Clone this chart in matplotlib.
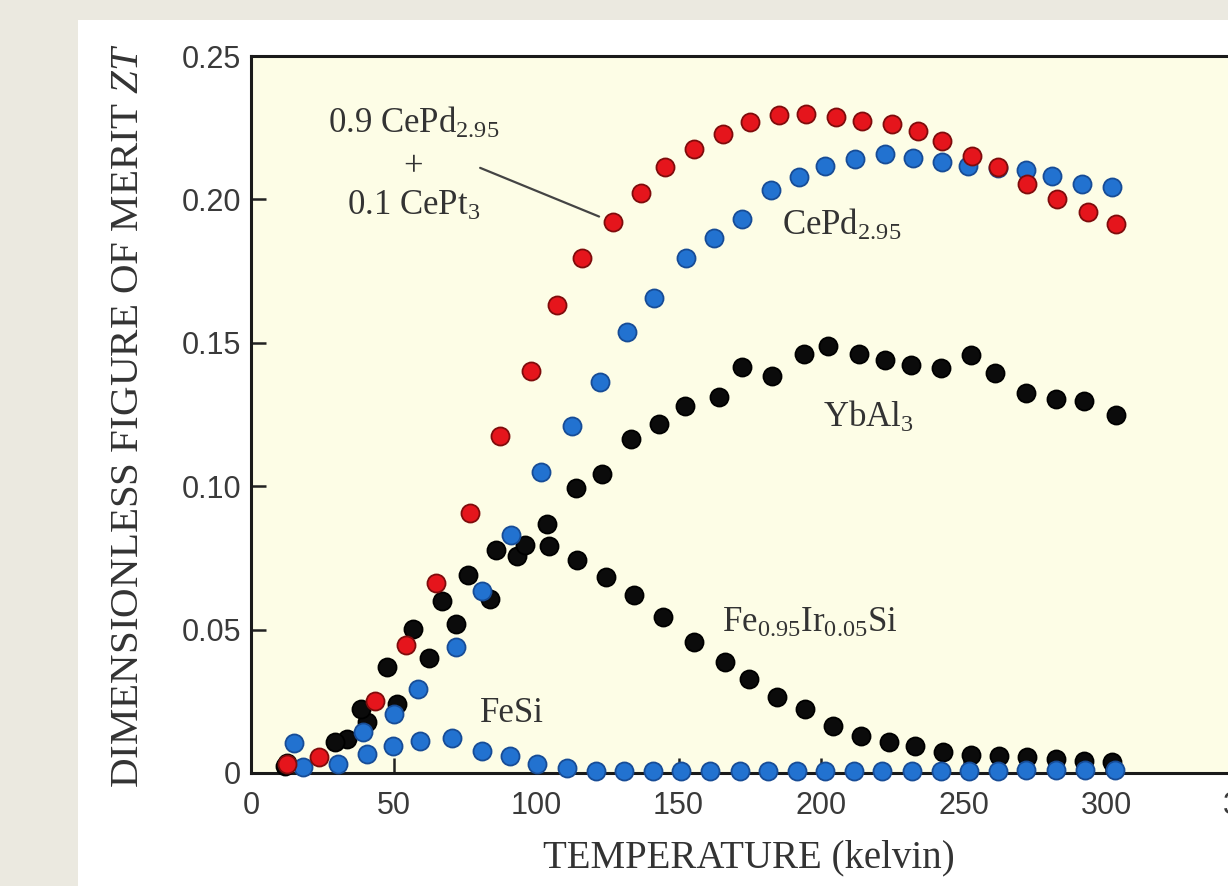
import matplotlib
matplotlib.use("Agg")
import matplotlib.pyplot as plt
from matplotlib.patches import Rectangle

plt.rcParams['font.family'] = ['Liberation Serif', 'DejaVu Serif']
plt.rcParams['mathtext.fontset'] = 'custom'
plt.rcParams['mathtext.rm'] = 'Liberation Serif'
plt.rcParams['mathtext.it'] = 'Liberation Serif:italic'

# 0.9 CePd2.95 + 0.1 CePt3 (red)
mix_T = [12.6, 23.8, 43.4, 54.3, 64.8, 76.7, 87.2, 98.1, 107.2, 116.3, 127.1, 136.9, 145.3, 155.5, 165.7,
         175.1, 185.3, 194.8, 205.3, 214.4, 225.0, 234.0, 242.4, 253.0, 262.0, 272.2, 282.7, 293.6, 303.4]
mix_ZT = [0.0030, 0.0056, 0.0252, 0.0448, 0.0661, 0.0906, 0.1175, 0.1400, 0.1632, 0.1795, 0.1920, 0.2022,
          0.2112, 0.2176, 0.2228, 0.2270, 0.2294, 0.2298, 0.2288, 0.2274, 0.2264, 0.2240, 0.2205, 0.2153,
          0.2114, 0.2052, 0.2002, 0.1955, 0.1913]

# CePd2.95 (blue)
cepd_T = [18.2, 30.4, 39.2, 50.1, 58.5, 71.8, 81.2, 91.4, 101.9, 112.8, 122.6, 132.0, 141.5, 152.7, 162.5,
          172.4, 182.5, 192.3, 201.4, 211.9, 222.4, 232.2, 242.4, 251.5, 262.0, 271.8, 281.0, 291.5, 302.0]
cepd_ZT = [0.0021, 0.0031, 0.0143, 0.0206, 0.0294, 0.0441, 0.0636, 0.0829, 0.1050, 0.1210, 0.1362, 0.1536,
           0.1657, 0.1794, 0.1867, 0.1930, 0.2034, 0.2079, 0.2118, 0.2142, 0.2160, 0.2146, 0.2132, 0.2118,
           0.2110, 0.2104, 0.2083, 0.2055, 0.2044]

# FeSi (blue)
fesi_T = [15.0, 40.6, 49.7, 59.2, 70.7, 80.9, 91.0, 100.5, 111.0, 121.0, 131.0, 141.0, 151.0, 161.0, 171.5,
          181.5, 191.5, 201.5, 211.5, 221.5, 232.0, 242.0, 252.0, 262.0, 272.0, 282.5, 292.5, 303.0]
fesi_ZT = [0.0105, 0.0066, 0.0094, 0.0112, 0.0122, 0.0077, 0.0060, 0.0031, 0.0017, 0.0008, 0.0007, 0.0008,
           0.0008, 0.0007, 0.0008, 0.0008, 0.0008, 0.0008, 0.0008, 0.0008, 0.0008, 0.0008, 0.0008, 0.0008,
           0.0009, 0.0009, 0.0010, 0.0010]

# YbAl3 (black)
ybal_T = [12.0, 33.6, 40.6, 51.1, 62.3, 71.8, 83.7, 93.2, 103.7, 114.2, 123.3, 133.4, 143.3, 152.4, 164.3,
          172.4, 182.9, 194.1, 202.5, 213.3, 222.4, 231.5, 242.0, 252.6, 261.0, 271.9, 282.3, 292.2, 303.4]
ybal_ZT = [0.0025, 0.0119, 0.0178, 0.0241, 0.0402, 0.0521, 0.0608, 0.0755, 0.0867, 0.0993, 0.1042, 0.1164,
           0.1217, 0.1280, 0.1311, 0.1416, 0.1385, 0.1462, 0.1488, 0.1460, 0.1440, 0.1422, 0.1412, 0.1456,
           0.1394, 0.1324, 0.1303, 0.1296, 0.1247]

# Fe0.95Ir0.05Si (black)
feir_T = [12.5, 29.4, 38.5, 47.6, 56.7, 66.9, 76.0, 86.1, 96.0, 104.4, 114.5, 124.7, 134.5, 144.7, 155.5,
          166.4, 174.8, 184.6, 194.4, 204.2, 214.1, 223.8, 233.0, 242.8, 252.6, 262.4, 272.2, 282.3, 292.2, 302.0]
feir_ZT = [0.0035, 0.0108, 0.0224, 0.0370, 0.0503, 0.0601, 0.0689, 0.0776, 0.0794, 0.0790, 0.0741, 0.0685,
           0.0619, 0.0545, 0.0458, 0.0388, 0.0329, 0.0266, 0.0224, 0.0164, 0.0129, 0.0108, 0.0094, 0.0073,
           0.0063, 0.0059, 0.0056, 0.0049, 0.0042, 0.0038]

x_ticks = [0, 50, 100, 150, 200, 250, 300, 350]
x_labels = ['0', '50', '100', '150', '200', '250', '300', '350']
y_ticks = [0, 0.05, 0.10, 0.15, 0.20, 0.25]
y_labels = ['0', '0.05', '0.10', '0.15', '0.20', '0.25']

fig = plt.figure(figsize=(12.28, 8.86), dpi=100)
fig.patch.set_facecolor('#ebe9e0')
fig.add_artist(Rectangle((78 / 1228, 0), 1, 1 - 20 / 886, transform=fig.transFigure,
                         facecolor='white', edgecolor='none', zorder=-10))

ax = fig.add_axes([251 / 1228, 113 / 886, 997.5 / 1228, 717 / 886])
ax.set_facecolor('#fdfde6')

dot = dict(ls='none', marker='o', ms=13, mew=1.3, clip_on=False, zorder=3)
ax.plot(ybal_T, ybal_ZT, mfc='#0b0b0b', mec='#000000', **dot)
ax.plot(feir_T, feir_ZT, mfc='#0b0b0b', mec='#000000', **dot)
ax.plot(fesi_T, fesi_ZT, mfc='#2272d0', mec='#174c96', **dot)
ax.plot(cepd_T, cepd_ZT, mfc='#2272d0', mec='#174c96', **dot)
ax.plot(mix_T, mix_ZT, mfc='#e5151c', mec='#7e0c0c', **dot)

ax.set_xlim(0, 350)
ax.set_ylim(0, 0.25)
ax.set_xticks(x_ticks, x_labels, fontfamily='Liberation Sans', fontsize=22, color='#3a3a3a')
ax.set_yticks(y_ticks, y_labels, fontfamily='Liberation Sans', fontsize=22, color='#3a3a3a')
ax.tick_params(direction='in', length=11, width=1.8, color='#222222')
ax.tick_params(axis='x', pad=13)
ax.tick_params(axis='y', pad=7)
for s in ax.spines.values():
    s.set_linewidth(2.2)
    s.set_color('#1a1a1a')

fig.text(129 / 1228, 1 - 416 / 886, 'DIMENSIONLESS FIGURE OF MERIT $ZT$', rotation=90,
         ha='center', va='center', fontsize=29.5, color='#333333')
fig.text(749 / 1228, 1 - 858 / 886, 'TEMPERATURE (kelvin)', ha='center', va='center',
         fontsize=28, color='#333333')

lab = dict(fontsize=25, color='#333333')
ax.text(57, 0.2232, '0.9 CePd$_{2.95}$', ha='center', va='baseline', **lab)
ax.text(57, 0.2110, '+', ha='center', va='center', **lab)
ax.text(57, 0.1946, '0.1 CePt$_3$', ha='center', va='baseline', **lab)
ax.annotate('', xy=(mix_T[10], mix_ZT[10]), xytext=(80.4, 0.2110),
            arrowprops=dict(arrowstyle='-', color='#444444', lw=1.6, shrinkA=0, shrinkB=11))
ax.text(186.3, 0.1876, 'CePd$_{2.95}$', ha='left', va='baseline', **lab)
ax.text(200.7, 0.1206, 'YbAl$_3$', ha='left', va='baseline', **lab)
ax.text(165.3, 0.0492, 'Fe$_{0.95}$Ir$_{0.05}$Si', ha='left', va='baseline', **lab)
ax.text(80.4, 0.0178, 'FeSi', ha='left', va='baseline', **lab)

fig.savefig('out.png', dpi=100, facecolor=fig.get_facecolor())
